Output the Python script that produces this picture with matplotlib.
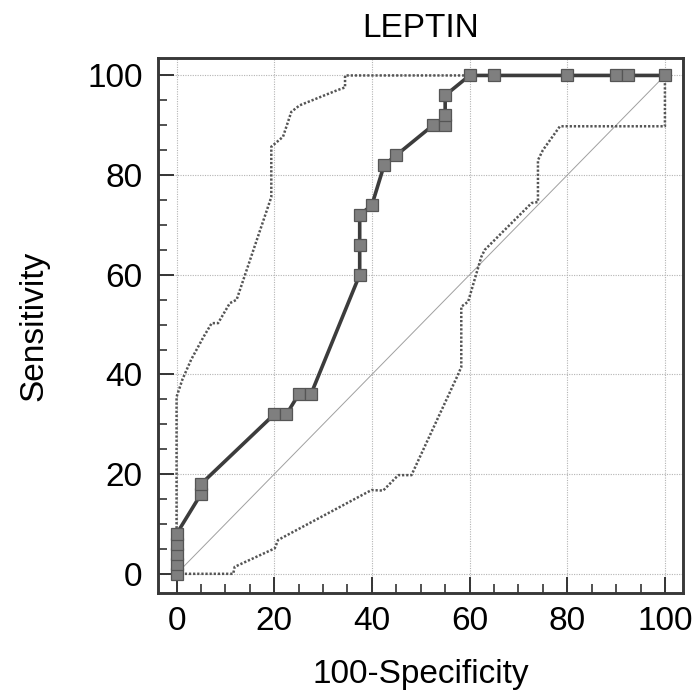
import matplotlib
matplotlib.use('Agg')
from matplotlib import pyplot as plt
from matplotlib.ticker import MultipleLocator

######### Data #########

# ROC curve points (100-Specificity, Sensitivity)
roc_x = [0, 0, 0, 0, 0, 5, 5, 20, 22.5, 25, 27.5, 37.5, 37.5, 37.5, 40, 42.5, 45,
         52.5, 55, 55, 55, 60, 65, 80, 90, 92.5, 100]
roc_y = [0, 2, 4, 6, 8, 16, 18, 32, 32, 36, 36, 60, 66, 72, 74, 82, 84,
         90, 90, 92, 96, 100, 100, 100, 100, 100, 100]

# upper confidence bound
upper_x = [0, 0, 1.2, 3, 5.5, 7.2, 8.5, 10.9, 12.3, 19.4, 19.4, 21.8, 23.5, 25.2,
           32.8, 34.5, 34.5, 100]
upper_y = [0, 35.5, 39, 43, 47.5, 50.3, 50.3, 54.3, 55, 75.6, 85.7, 87.7, 92.7, 94,
           97, 97.6, 100, 100]

# lower confidence bound
lower_x = [0, 11.6, 11.9, 20.1, 20.8, 39.9, 42.3, 45.4, 48.1, 57.6, 58.3, 58.3,
           59.7, 62.4, 63.1, 72.7, 74, 74, 75, 78.5, 100, 100]
lower_y = [0, 0, 1.4, 5.1, 6.8, 16.8, 16.7, 19.8, 19.8, 39.9, 41.5, 53.6,
           54.6, 63.6, 65, 74.4, 74.6, 83, 85, 89.8, 89.8, 100]

ticks = [0, 20, 40, 60, 80, 100]
title = 'LEPTIN'

######### Plot #########

plt.rcParams['font.family'] = ['Liberation Sans', 'DejaVu Sans']
fs = 24

fig = plt.figure(figsize=(6.96, 6.95), dpi=100)
ax = fig.add_axes([158 / 696, 1 - 593 / 695, 525 / 696, 535 / 695])

ax.set_xlim(-3.8, 103.7)
ax.set_ylim(-3.85, 103.5)

# grid
for t in ticks:
    ax.axvline(t, color='#b4b4b4', lw=0.8, linestyle=(0, (1, 1.2)), zorder=1)
    ax.axhline(t, color='#b4b4b4', lw=0.8, linestyle=(0, (1, 1.2)), zorder=1)

# diagonal
ax.plot([0, 100], [0, 100], color='#a0a0a0', lw=0.7, zorder=2)

# confidence bounds
ax.plot(upper_x, upper_y, color='#555555', lw=1.8, linestyle=(0, (0.9, 0.75)), zorder=3)
ax.plot(lower_x, lower_y, color='#555555', lw=1.8, linestyle=(0, (0.9, 0.75)), zorder=3)

# ROC curve
ax.plot(roc_x, roc_y, color='#3c3c3c', lw=2.6, zorder=4,
        marker='s', markersize=9.2, markerfacecolor='#7f7f7f',
        markeredgecolor='#555555', markeredgewidth=0.9, clip_on=False)

ax.set_xticks(ticks)
ax.set_yticks(ticks)
ax.xaxis.set_minor_locator(MultipleLocator(5))
ax.yaxis.set_minor_locator(MultipleLocator(5))
ax.tick_params(which='major', direction='in', length=11.5, width=1.4,
               color='#333333', labelsize=fs, pad=9)
ax.tick_params(which='minor', direction='in', length=6.5, width=1.2, color='#333333')
ax.tick_params(axis='y', pad=11)

for s in ax.spines.values():
    s.set_linewidth(2.1)
    s.set_color('#383838')

ax.set_title(title, fontsize=fs, pad=15)
ax.set_xlabel('100-Specificity', fontsize=fs)
ax.set_ylabel('Sensitivity', fontsize=fs)
ax.xaxis.set_label_coords(0.5, -0.123)
ax.yaxis.set_label_coords(-0.206, 0.5)

fig.savefig('out.png', dpi=100)
